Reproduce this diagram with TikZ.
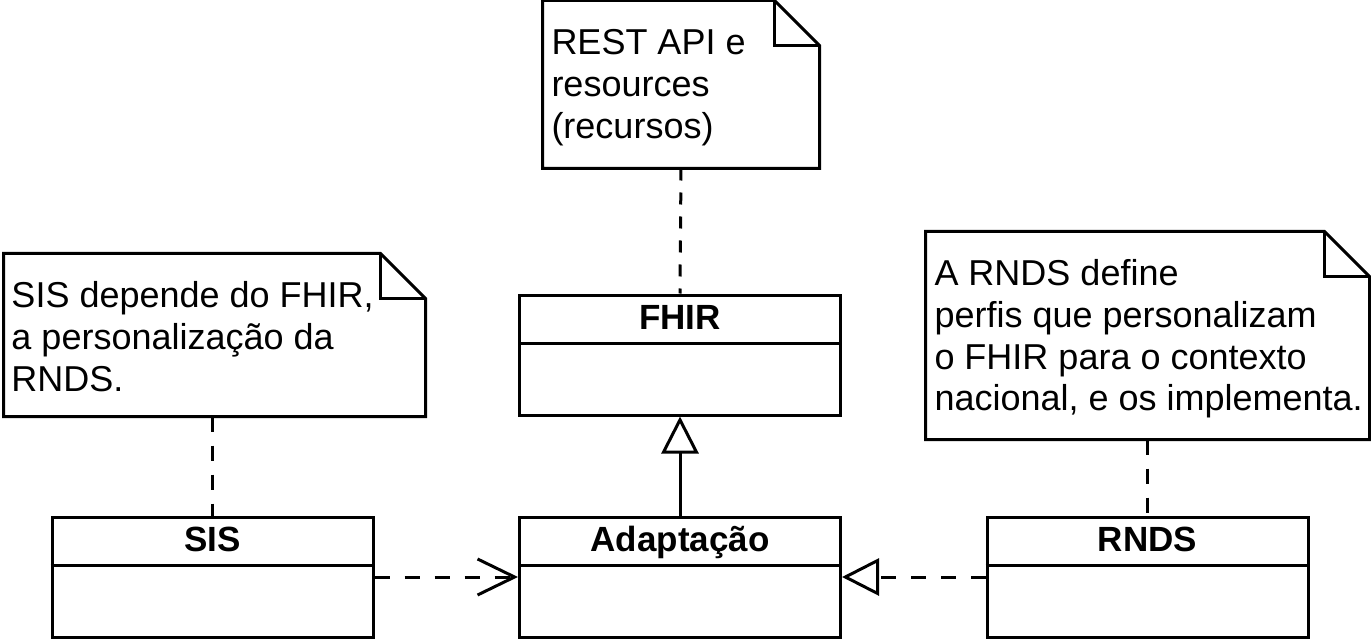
\documentclass[tikz,border=0pt]{standalone}
\usepackage{fontspec}
\setmainfont{Liberation Sans}
\usetikzlibrary{arrows.meta,calc}
\begin{document}
\begin{tikzpicture}[x=1pt,y=-1pt,line width=3pt,
  classbox/.style={draw, fill=white, minimum width=321pt, minimum height=120pt, inner sep=0pt},
  classtitle/.style={anchor=base, inner sep=0pt, font=\fontsize{35}{41}\bfseries\selectfont},
  notebox/.style={inner sep=0pt},
  notetext/.style={anchor=base west, inner sep=0pt, font=\fontsize{36}{42}\selectfont},
  depline/.style={dash pattern=on 15pt off 15pt},
  notelink/.style={dash pattern=on 15pt off 14pt},
  opentri/.style={-{Triangle[open,length=37pt,width=37pt]}},
  openv/.style={-{Straight Barb[length=37pt,width=36pt]}}]
\useasboundingbox (0,0) rectangle (1371,639);

% class boxes
\node[classbox] (fhir) at (680,355) {};
\node[classbox] (sis) at (212.5,577) {};
\node[classbox] (adapt) at (680,577) {};
\node[classbox] (rnds) at (1147.5,577) {};
\foreach \b in {fhir,sis,adapt,rnds}
  \draw ($(\b.north west)+(0,50)$) -- ($(\b.north east)+(0,50)$);
\node[classtitle] (tfhir) at ($(fhir.north)+(0,35.5)$) {FHIR};
\node[classtitle] (tsis) at ($(sis.north)+(0,35.5)$) {SIS};
\node[classtitle] (tadapt) at ($(adapt.north)+(0,35.5)$) {Adaptação};
\node[classtitle] (trnds) at ($(rnds.north)+(0,35.5)$) {RNDS};

% notes
\node[notebox, minimum width=274pt, minimum height=165pt] (n1) at (681,84.5) {};
\node[notebox, minimum width=419pt, minimum height=160pt] (n2) at (214.5,335) {};
\node[notebox, minimum width=441pt, minimum height=205pt] (n3) at (1147.5,335.5) {};
\foreach \n in {n1,n2,n3} {
  \draw[fill=white] (\n.north west) -- ($(\n.north east)+(-45,0)$) -- ($(\n.north east)+(0,45)$)
     -- (\n.south east) -- (\n.south west) -- cycle;
  \draw ($(\n.north east)+(-45,0)$) -- ($(\n.north east)+(-45,45)$) -- ($(\n.north east)+(0,45)$);
}
\node[notetext] (t1) at (550,55) {\begin{tabular}[t]{@{}l@{}}REST API e\\resources\\(recursos)\end{tabular}};
\node[notetext] (t2) at (10,307) {\begin{tabular}[t]{@{}l@{}}SIS depende do FHIR,\\a personalização da\\RNDS.\end{tabular}};
\node[notetext] (t3) at (933,285) {\begin{tabular}[t]{@{}l@{}}A RNDS define\\perfis que personalizam\\o FHIR para o contexto\\nacional, e os implementa.\end{tabular}};

% connectors
\draw[dash pattern=on 12pt off 12pt] (n1.south) -- (fhir.north);
\draw[notelink] (sis.north |- n2.south) -- (sis.north);
\draw[notelink] (n3.south) -- (rnds.north);
\draw[opentri] (adapt.north) -- (fhir.south);
\draw[depline,openv] (sis.east) -- (adapt.west);
\draw[depline,opentri] (rnds.west) -- (adapt.east);
\end{tikzpicture}
\end{document}
